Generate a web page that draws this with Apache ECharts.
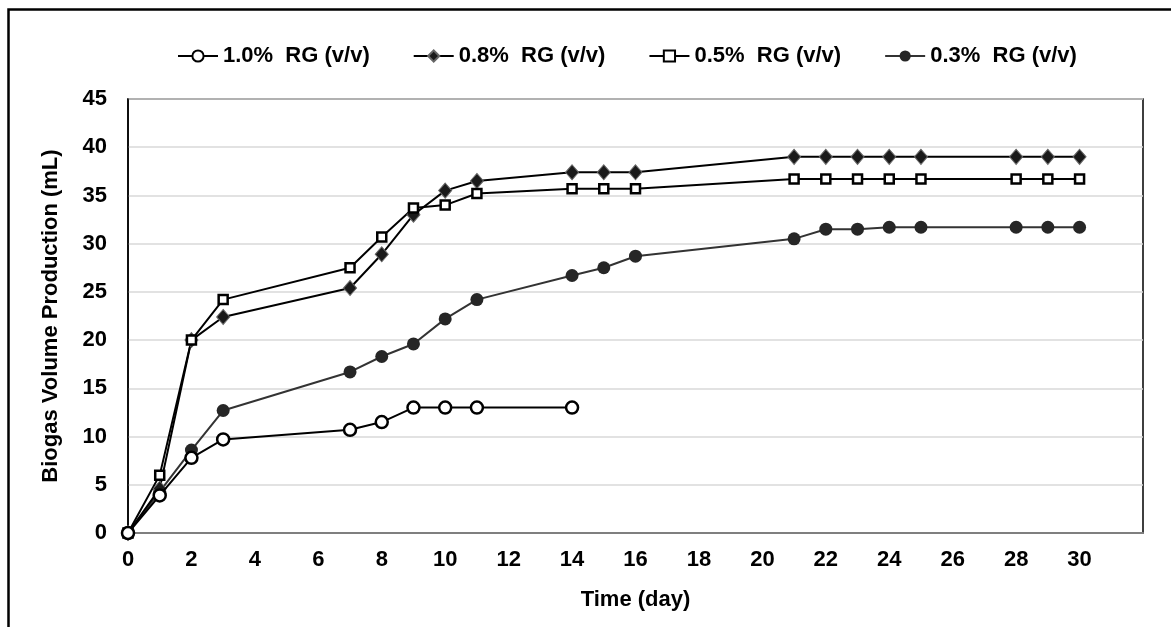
<!DOCTYPE html>
<html>
<head>
<meta charset="utf-8">
<script src="https://cdn.jsdelivr.net/npm/echarts@6/dist/echarts.min.js"></script>
<style>
html,body{margin:0;padding:0;background:#fff;}
#chart{width:1171px;height:627px;}
</style>
</head>
<body>
<div id="chart"></div>
<script>
var seriesNames = ['1.0%  RG (v/v)', '0.8%  RG (v/v)', '0.5%  RG (v/v)', '0.3%  RG (v/v)'];
var daysShort = [0, 1, 2, 3, 7, 8, 9, 10, 11, 14];
var daysLong = [0, 1, 2, 3, 7, 8, 9, 10, 11, 14, 15, 16, 21, 22, 23, 24, 25, 28, 29, 30];
var rg10 = [0, 3.9, 7.8, 9.7, 10.7, 11.5, 13.0, 13.0, 13.0, 13.0];
var rg08 = [0, 4.6, 20, 22.4, 25.4, 28.9, 33.0, 35.5, 36.5, 37.4, 37.4, 37.4, 39, 39, 39, 39, 39, 39, 39, 39];
var rg05 = [0, 6.0, 20, 24.2, 27.5, 30.7, 33.7, 34.0, 35.2, 35.7, 35.7, 35.7, 36.7, 36.7, 36.7, 36.7, 36.7, 36.7, 36.7, 36.7];
var rg03 = [0, 4.3, 8.6, 12.7, 16.7, 18.3, 19.6, 22.2, 24.2, 26.7, 27.5, 28.7, 30.5, 31.5, 31.5, 31.7, 31.7, 31.7, 31.7, 31.7];
var xTicksMax = 30;

function pairs(xs, ys) { return xs.map(function (x, i) { return [x, ys[i]]; }); }

var FONT = '"Liberation Sans", Arial, sans-serif';
var chart = echarts.init(document.getElementById('chart'), null, { renderer: 'canvas' });
chart.setOption({
  animation: false,
  backgroundColor: '#fff',
  graphic: [{
    type: 'rect', z: 100, silent: true,
    shape: { x: 8.5, y: 9.5, width: 1300, height: 800 },
    style: { fill: 'none', stroke: '#000', lineWidth: 2.5 }
  }],
  legend: {
    left: 172, top: 40,
    itemWidth: 40, itemHeight: 14, itemGap: 43,
    textStyle: { fontFamily: FONT, fontWeight: 'bold', fontSize: 22, color: '#000' },
    data: seriesNames
  },
  grid: {
    left: 128, right: 28, top: 99, bottom: 94,
    show: true, borderColor: '#000', borderWidth: 1.5, containLabel: false
  },
  xAxis: {
    type: 'value', min: 0, max: 32, interval: 2,
    name: 'Time (day)', nameLocation: 'middle', nameGap: 56,
    nameTextStyle: { fontFamily: FONT, fontWeight: 'bold', fontSize: 22, color: '#000' },
    axisLine: { show: true, lineStyle: { color: '#7f7f7f', width: 2 } },
    axisTick: { show: false },
    splitLine: { show: false },
    axisLabel: {
      margin: 16, fontFamily: FONT, fontWeight: 'bold', fontSize: 22, color: '#000',
      formatter: function (v) { return v <= xTicksMax ? String(v) : ''; }
    }
  },
  yAxis: {
    type: 'value', min: 0, max: 45, interval: 5,
    name: 'Biogas Volume Production (mL)', nameLocation: 'middle', nameGap: 66,
    nameTextStyle: { fontFamily: FONT, fontWeight: 'bold', fontSize: 22, color: '#000' },
    axisLine: { show: true, lineStyle: { color: '#000', width: 1.5 } },
    axisTick: { show: false },
    splitLine: { show: true, lineStyle: { color: '#d9d9d9', width: 1.5 } },
    axisLabel: { margin: 21, fontFamily: FONT, fontWeight: 'bold', fontSize: 22, color: '#000' }
  },
  series: [
    {
      name: seriesNames[0], type: 'line', data: pairs(daysShort, rg10), z: 4,
      symbol: 'circle', symbolSize: 12,
      lineStyle: { color: '#000', width: 2 },
      itemStyle: { color: '#fff', borderColor: '#000', borderWidth: 2.5 }
    },
    {
      name: seriesNames[1], type: 'line', data: pairs(daysLong, rg08), z: 3,
      symbol: 'diamond', symbolSize: [13, 15],
      lineStyle: { color: '#000', width: 2 },
      itemStyle: { color: '#1a1a1a', borderColor: '#666', borderWidth: 1 }
    },
    {
      name: seriesNames[2], type: 'line', data: pairs(daysLong, rg05), z: 3,
      symbol: 'rect', symbolSize: 9,
      lineStyle: { color: '#000', width: 2 },
      itemStyle: { color: '#fff', borderColor: '#000', borderWidth: 2.5 }
    },
    {
      name: seriesNames[3], type: 'line', data: pairs(daysLong, rg03), z: 2,
      symbol: 'circle', symbolSize: 13,
      lineStyle: { color: '#333', width: 2 },
      itemStyle: { color: '#262626', borderColor: '#262626', borderWidth: 0 }
    }
  ]
});
</script>
</body>
</html>
